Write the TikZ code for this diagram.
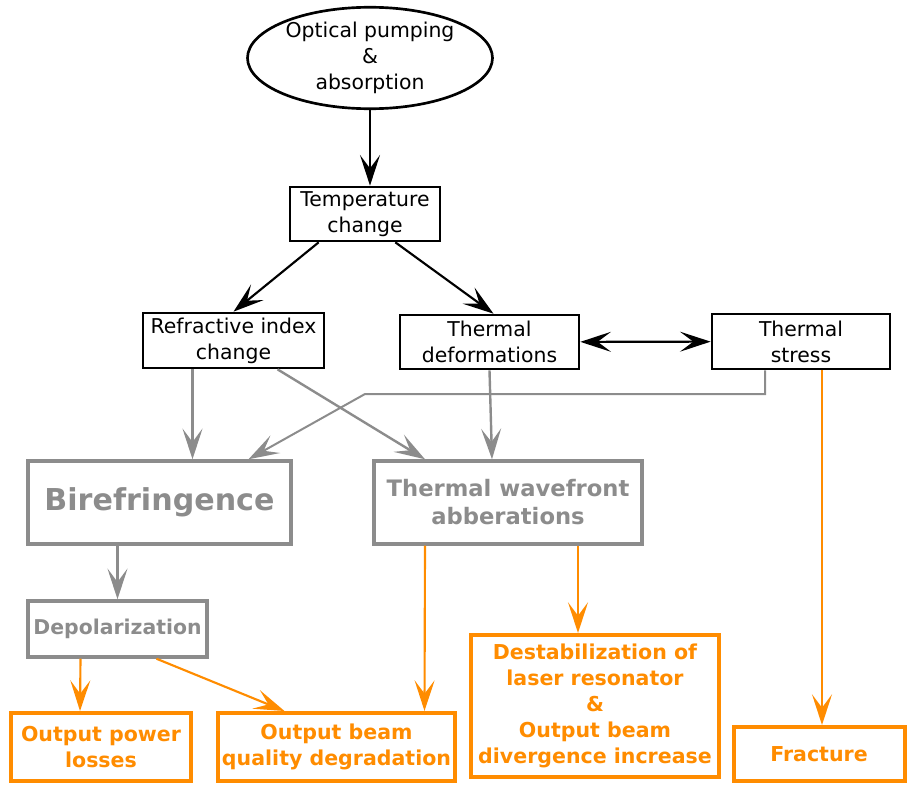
\documentclass[tikz,border=0pt]{standalone}
\usepackage{fontspec}
\setmainfont{DejaVu Sans}
\usepackage{xcolor}
\usetikzlibrary{arrows.meta,shapes.geometric}

\definecolor{effgray}{RGB}{140,140,140}
\definecolor{efforange}{RGB}{255,140,0}

\begin{document}
\begin{tikzpicture}[x=0.75pt, y=-0.75pt,
      >={Stealth[length=23pt, width=15pt, inset=10pt]},
      cause/.style={draw=black, line width=2pt, inner sep=0pt, align=center,
        font=\fontsize{15.3}{19.5}\selectfont},
      effect/.style={draw=effgray, line width=2.6pt, inner sep=0pt, align=center,
        text=effgray, font=\bfseries\fontsize{17}{21}\selectfont},
      result/.style={draw=efforange, line width=3pt, inner sep=0pt, align=center,
        text=efforange, font=\bfseries\fontsize{15.4}{19.5}\selectfont},
      blackarrow/.style={->, line width=1.6pt, black},
      grayarrow/.style={->, line width=1.8pt, effgray},
      orangearrow/.style={->, line width=1.6pt, efforange}]
      \useasboundingbox (0, 0) rectangle (907, 785);
      % sources
      \node[cause, ellipse, minimum width=245*0.75pt, minimum height=92*0.75pt]
        (pump) at (370, 58) {Optical pumping\\\&\\absorption};
      \node[cause, minimum width=150*0.75pt, minimum height=54*0.75pt]
        (temp) at (365, 214) {Temperature\\change};
      \node[cause, minimum width=181*0.75pt, minimum height=55*0.75pt]
        (index) at (233.5, 340.5) {Refractive index\\change};
      \node[cause, minimum width=179*0.75pt, minimum height=54*0.75pt]
        (deform) at (489.5, 342) {Thermal\\deformations};
      \node[cause, minimum width=178*0.75pt, minimum height=55*0.75pt]
        (stress) at (801, 341.5) {Thermal\\stress};
      % effects
      \node[effect, minimum width=263*0.75pt, minimum height=83*0.75pt,
        font=\bfseries\fontsize{22.6}{26}\selectfont]
        (biref) at (159.5, 502.5) {Birefringence};
      \node[effect, minimum width=268*0.75pt, minimum height=83*0.75pt]
        (wave) at (508, 502.5) {Thermal wavefront\\abberations};
      \node[effect, minimum width=179*0.75pt, minimum height=56*0.75pt,
        font=\bfseries\fontsize{15.3}{18}\selectfont]
        (depol) at (117.5, 629) {Depolarization};
      % results
      \node[result, minimum width=180*0.75pt, minimum height=68*0.75pt]
        (losses) at (101, 747) {Output power\\losses};
      \node[result, minimum width=237*0.75pt, minimum height=68*0.75pt]
        (quality) at (336.5, 747) {Output beam\\quality degradation};
      \node[result, minimum width=248*0.75pt, minimum height=142*0.75pt]
        (destab) at (595, 706) {Destabilization of\\laser resonator\\\&\\Output beam\\divergence increase};
      \node[result, minimum width=171*0.75pt, minimum height=54*0.75pt]
        (fract) at (819, 754) {Fracture};
      % links
      \coordinate (bend1) at (765, 394);
      \coordinate (bend2) at (365, 394);
      \draw[blackarrow] (pump.south) -- (pump.south |- temp.north);
      \draw[blackarrow] (temp.south west) ++(30, 0) -- (index.north);
      \draw[blackarrow] (temp.south east) ++(-46, 0) -- ([xshift=4*0.75pt]deform.north);
      \draw[blackarrow, <->] (deform) -- (stress);
      \draw[grayarrow] ([xshift=-41*0.75pt]index.south) -- ([xshift=33*0.75pt]biref.north);
      \draw[grayarrow] ([xshift=44*0.75pt]index.south) -- ([xshift=-83*0.75pt]wave.north);
      \draw[grayarrow] (deform.south) -- ([xshift=-16*0.75pt]wave.north);
      \draw[grayarrow, line width=1.5pt] ([xshift=-36*0.75pt]stress.south) -- (bend1) -- (bend2)
        -- ([xshift=89*0.75pt]biref.north);
      \draw[grayarrow] ([xshift=-42*0.75pt]biref.south) -- (depol.north);
      \draw[orangearrow] ([xshift=-37*0.75pt]depol.south) -- ([xshift=-21*0.75pt]losses.north);
      \draw[orangearrow] ([xshift=39*0.75pt]depol.south) -- ([xshift=-52*0.75pt]quality.north);
      \draw[orangearrow] ([xshift=-83*0.75pt]wave.south) -- ([xshift=88*0.75pt]quality.north);
      \draw[orangearrow] ([xshift=70*0.75pt]wave.south) -- ([xshift=-17*0.75pt]destab.north);
      \draw[orangearrow] ([xshift=21*0.75pt]stress.south) -- ([xshift=3*0.75pt]fract.north);
    \end{tikzpicture}
\end{document}
